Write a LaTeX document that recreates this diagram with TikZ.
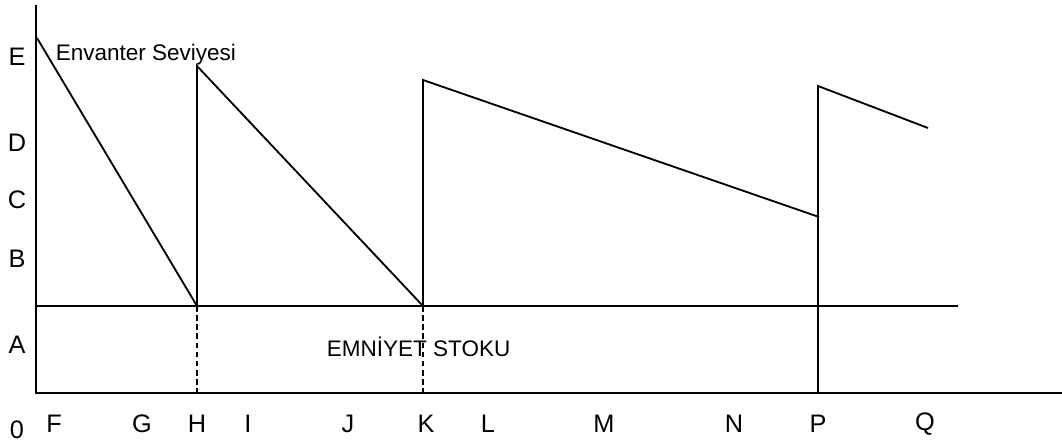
\documentclass[tikz,border=0pt]{standalone}
\usepackage{fontspec}
\setmainfont{Liberation Sans}
\begin{document}
\begin{tikzpicture}[x=0.025cm, y=-0.025cm, line width=1.3pt,
    axislabel/.style={font=\fontsize{18}{21}\selectfont},
    textlabel/.style={font=\fontsize{16}{19}\selectfont, inner sep=0pt},
    guide/.style={dash pattern=on 4pt off 2.5pt}]
    \useasboundingbox (0,0) rectangle (1062,445);

    % Define the points of the axes
    \coordinate (O) at (36,393);
    \coordinate (Ytop) at (36,5);
    \coordinate (Xend) at (1062,393);
    \coordinate (S0) at (36,306);
    \coordinate (S1) at (958,306);

    % Define the corners of the inventory curve
    \coordinate (T1) at (37,38);
    \coordinate (H) at (197,306);
    \coordinate (T2) at (197,66);
    \coordinate (K) at (423,306);
    \coordinate (T3) at (423,80);
    \coordinate (R3) at (819,217);
    \coordinate (P) at (818,393);
    \coordinate (T4) at (818,86);
    \coordinate (R4) at (928,128);

    % Draw the axes and the safety stock line
    \draw (Ytop) -- (O) -- (Xend);
    \draw (S0) -- (S1);

    % Draw the inventory level
    \draw (T1) -- (H) -- (T2) -- (K) -- (T3) -- (R3);
    \draw (P) -- (T4) -- (R4);

    % Draw the dashed guides down to the time axis
    \draw[guide] (H) -- (H |- O);
    \draw[guide] (K) -- (K |- O);

    % Place the labels of the vertical axis
    \node[axislabel] (lE) at (17,57) {E};
    \node[axislabel] (lD) at (17,143) {D};
    \node[axislabel] (lC) at (17,200) {C};
    \node[axislabel] (lB) at (17,259) {B};
    \node[axislabel] (lA) at (17,345) {A};
    \node[axislabel] (l0) at (17,430) {0};

    % Place the labels of the time axis
    \foreach \name/\xpos in {F/54, G/142, H/197, I/248, J/348, K/426, L/488, M/604, N/734, P/818, Q/925}
        \node[axislabel] (t\name) at (\xpos,424) {\name};

    % Curve and stock labels
    \node[textlabel, anchor=west] (level) at (55,55) {Envanter Seviyesi};
    \node[textlabel, anchor=west] (stock) at (326,347) {EMNİYET STOKU};
\end{tikzpicture}
\end{document}
